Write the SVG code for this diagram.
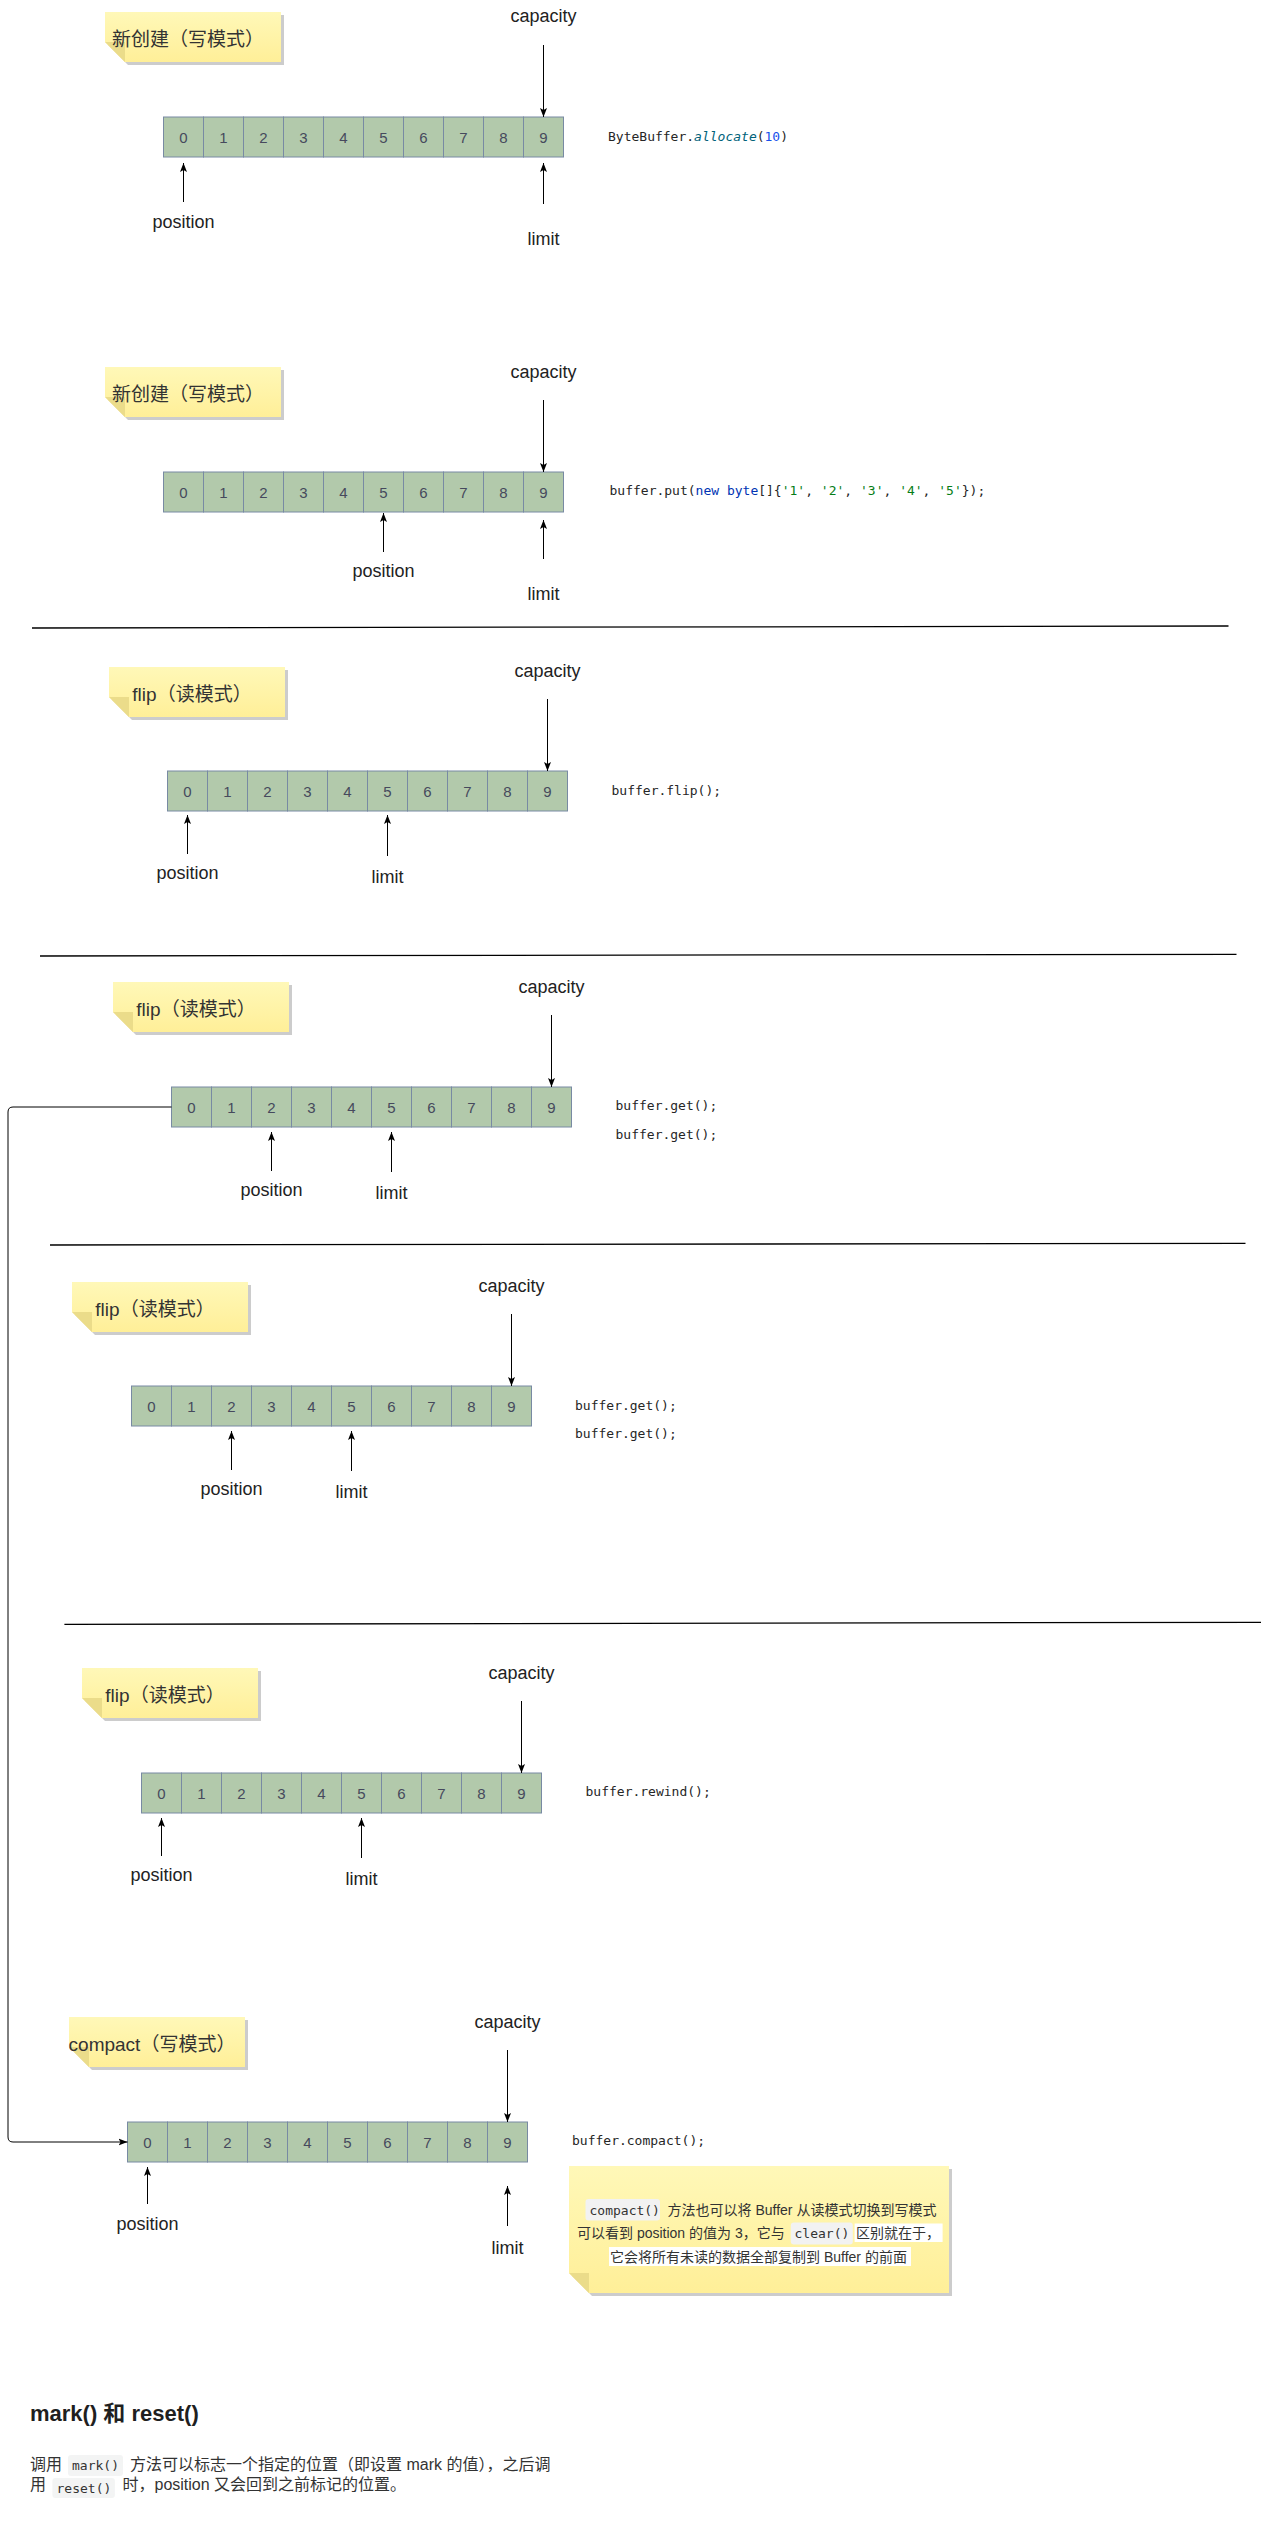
<svg xmlns="http://www.w3.org/2000/svg" width="1261" height="2530" viewBox="0 0 1261 2530">
<style>
.cell{fill:#b2c9ab;stroke:#788aa3;stroke-width:1}
.dg{font-family:"Liberation Sans","Noto Sans",sans-serif;font-size:15px;fill:#46495d;text-anchor:middle}
.lbl{font-family:"Liberation Sans","Noto Sans",sans-serif;font-size:18px;fill:#222;text-anchor:middle}
.ttl{font-family:"Liberation Sans","Noto Sans CJK SC",sans-serif;font-size:19px;fill:#333;text-anchor:middle}
.code{font-family:"DejaVu Sans Mono","Liberation Mono",monospace;font-size:13px;fill:#262626;white-space:pre}
.kw{fill:#0033b3}.str{fill:#067d17}.num{fill:#1750eb}.mth{fill:#00627a;font-style:italic}
.ln{stroke:#000;stroke-width:1;fill:none}
.sep{stroke:#000;stroke-width:1.3}
.note{fill:url(#ng)}
.fold{fill:#ebdc8a}
.shd{fill:#000;opacity:0.2}
.ntx{font-family:"Liberation Sans","Noto Sans CJK SC",sans-serif;font-size:14px;fill:#333;white-space:pre}
.ncode{font-family:"DejaVu Sans Mono","Liberation Mono",monospace;font-size:13px;fill:#333}
.cbg{fill:#f2f2f2}
.wbg{fill:#fff}
.h{font-family:"Liberation Sans","Noto Sans CJK SC",sans-serif;font-size:22px;font-weight:bold;fill:#1f1f1f}
.p{font-family:"Liberation Sans","Noto Sans CJK SC",sans-serif;font-size:16px;fill:#333;white-space:pre}
.pc{font-family:"DejaVu Sans Mono","Liberation Mono",monospace;font-size:13px;fill:#333}
.pbg{fill:#f3f4f4}
</style>
<defs>
<linearGradient id="ng" x1="0" y1="0" x2="0" y2="1">
<stop offset="0" stop-color="#fff8b8"/>
<stop offset="1" stop-color="#ffef98"/>
</linearGradient>
<marker id="ah" markerWidth="10" markerHeight="8" refX="9" refY="4" orient="auto" markerUnits="userSpaceOnUse">
<path d="M0,0.5 L9,4 L0,7.5 L2,4 Z" fill="#000"/>
</marker>
</defs>

<!-- separators -->
<g id="separators">
<line class="sep" x1="32" y1="628" x2="1228.5" y2="626"/>
<line class="sep" x1="40" y1="956" x2="1236.5" y2="954.3"/>
<line class="sep" x1="50" y1="1245" x2="1245.5" y2="1243.3"/>
<line class="sep" x1="64.4" y1="1624.3" x2="1261" y2="1622.3"/>
</g>

<!-- notes -->
<g id="note1" transform="translate(105,12)">
<path class="shd" d="M3,3 H179 V53 H23 L3,33 Z"/><path class="note" d="M0,0 H176 V50 H20 L0,30 Z"/><path class="fold" d="M0,30 L20,30 L20,50 Z"/>
<text class="ttl" x="83" y="33.5">新创建（写模式）</text>
</g>
<g id="note2" transform="translate(105,367)">
<path class="shd" d="M3,3 H179 V53 H23 L3,33 Z"/><path class="note" d="M0,0 H176 V50 H20 L0,30 Z"/><path class="fold" d="M0,30 L20,30 L20,50 Z"/>
<text class="ttl" x="83" y="33.5">新创建（写模式）</text>
</g>
<g id="note3" transform="translate(109,667)">
<path class="shd" d="M3,3 H179 V53 H23 L3,33 Z"/><path class="note" d="M0,0 H176 V50 H20 L0,30 Z"/><path class="fold" d="M0,30 L20,30 L20,50 Z"/>
<text class="ttl" x="83" y="33.5">flip（读模式）</text>
</g>
<g id="note4" transform="translate(113,982)">
<path class="shd" d="M3,3 H179 V53 H23 L3,33 Z"/><path class="note" d="M0,0 H176 V50 H20 L0,30 Z"/><path class="fold" d="M0,30 L20,30 L20,50 Z"/>
<text class="ttl" x="83" y="33.5">flip（读模式）</text>
</g>
<g id="note5" transform="translate(72,1282)">
<path class="shd" d="M3,3 H179 V53 H23 L3,33 Z"/><path class="note" d="M0,0 H176 V50 H20 L0,30 Z"/><path class="fold" d="M0,30 L20,30 L20,50 Z"/>
<text class="ttl" x="83" y="33.5">flip（读模式）</text>
</g>
<g id="note6" transform="translate(82,1668)">
<path class="shd" d="M3,3 H179 V53 H23 L3,33 Z"/><path class="note" d="M0,0 H176 V50 H20 L0,30 Z"/><path class="fold" d="M0,30 L20,30 L20,50 Z"/>
<text class="ttl" x="83" y="33.5">flip（读模式）</text>
</g>
<g id="note7" transform="translate(69,2017)">
<path class="shd" d="M3,3 H179 V53 H23 L3,33 Z"/><path class="note" d="M0,0 H176 V50 H20 L0,30 Z"/><path class="fold" d="M0,30 L20,30 L20,50 Z"/>
<text class="ttl" x="83" y="33.5">compact（写模式）</text>
</g>

<!-- buffers -->
<g id="buffer1" transform="translate(163.5,117)">
<rect class="cell" x="0" y="0" width="40" height="40"/><rect class="cell" x="40" y="0" width="40" height="40"/><rect class="cell" x="80" y="0" width="40" height="40"/><rect class="cell" x="120" y="0" width="40" height="40"/><rect class="cell" x="160" y="0" width="40" height="40"/><rect class="cell" x="200" y="0" width="40" height="40"/><rect class="cell" x="240" y="0" width="40" height="40"/><rect class="cell" x="280" y="0" width="40" height="40"/><rect class="cell" x="320" y="0" width="40" height="40"/><rect class="cell" x="360" y="0" width="40" height="40"/>
<text class="dg" x="20" y="25.5">0</text><text class="dg" x="60" y="25.5">1</text><text class="dg" x="100" y="25.5">2</text><text class="dg" x="140" y="25.5">3</text><text class="dg" x="180" y="25.5">4</text><text class="dg" x="220" y="25.5">5</text><text class="dg" x="260" y="25.5">6</text><text class="dg" x="300" y="25.5">7</text><text class="dg" x="340" y="25.5">8</text><text class="dg" x="380" y="25.5">9</text>
</g>
<g id="buffer2" transform="translate(163.5,472)">
<rect class="cell" x="0" y="0" width="40" height="40"/><rect class="cell" x="40" y="0" width="40" height="40"/><rect class="cell" x="80" y="0" width="40" height="40"/><rect class="cell" x="120" y="0" width="40" height="40"/><rect class="cell" x="160" y="0" width="40" height="40"/><rect class="cell" x="200" y="0" width="40" height="40"/><rect class="cell" x="240" y="0" width="40" height="40"/><rect class="cell" x="280" y="0" width="40" height="40"/><rect class="cell" x="320" y="0" width="40" height="40"/><rect class="cell" x="360" y="0" width="40" height="40"/>
<text class="dg" x="20" y="25.5">0</text><text class="dg" x="60" y="25.5">1</text><text class="dg" x="100" y="25.5">2</text><text class="dg" x="140" y="25.5">3</text><text class="dg" x="180" y="25.5">4</text><text class="dg" x="220" y="25.5">5</text><text class="dg" x="260" y="25.5">6</text><text class="dg" x="300" y="25.5">7</text><text class="dg" x="340" y="25.5">8</text><text class="dg" x="380" y="25.5">9</text>
</g>
<g id="buffer3" transform="translate(167.5,771)">
<rect class="cell" x="0" y="0" width="40" height="40"/><rect class="cell" x="40" y="0" width="40" height="40"/><rect class="cell" x="80" y="0" width="40" height="40"/><rect class="cell" x="120" y="0" width="40" height="40"/><rect class="cell" x="160" y="0" width="40" height="40"/><rect class="cell" x="200" y="0" width="40" height="40"/><rect class="cell" x="240" y="0" width="40" height="40"/><rect class="cell" x="280" y="0" width="40" height="40"/><rect class="cell" x="320" y="0" width="40" height="40"/><rect class="cell" x="360" y="0" width="40" height="40"/>
<text class="dg" x="20" y="25.5">0</text><text class="dg" x="60" y="25.5">1</text><text class="dg" x="100" y="25.5">2</text><text class="dg" x="140" y="25.5">3</text><text class="dg" x="180" y="25.5">4</text><text class="dg" x="220" y="25.5">5</text><text class="dg" x="260" y="25.5">6</text><text class="dg" x="300" y="25.5">7</text><text class="dg" x="340" y="25.5">8</text><text class="dg" x="380" y="25.5">9</text>
</g>
<g id="buffer4" transform="translate(171.5,1087)">
<rect class="cell" x="0" y="0" width="40" height="40"/><rect class="cell" x="40" y="0" width="40" height="40"/><rect class="cell" x="80" y="0" width="40" height="40"/><rect class="cell" x="120" y="0" width="40" height="40"/><rect class="cell" x="160" y="0" width="40" height="40"/><rect class="cell" x="200" y="0" width="40" height="40"/><rect class="cell" x="240" y="0" width="40" height="40"/><rect class="cell" x="280" y="0" width="40" height="40"/><rect class="cell" x="320" y="0" width="40" height="40"/><rect class="cell" x="360" y="0" width="40" height="40"/>
<text class="dg" x="20" y="25.5">0</text><text class="dg" x="60" y="25.5">1</text><text class="dg" x="100" y="25.5">2</text><text class="dg" x="140" y="25.5">3</text><text class="dg" x="180" y="25.5">4</text><text class="dg" x="220" y="25.5">5</text><text class="dg" x="260" y="25.5">6</text><text class="dg" x="300" y="25.5">7</text><text class="dg" x="340" y="25.5">8</text><text class="dg" x="380" y="25.5">9</text>
</g>
<g id="buffer5" transform="translate(131.5,1386)">
<rect class="cell" x="0" y="0" width="40" height="40"/><rect class="cell" x="40" y="0" width="40" height="40"/><rect class="cell" x="80" y="0" width="40" height="40"/><rect class="cell" x="120" y="0" width="40" height="40"/><rect class="cell" x="160" y="0" width="40" height="40"/><rect class="cell" x="200" y="0" width="40" height="40"/><rect class="cell" x="240" y="0" width="40" height="40"/><rect class="cell" x="280" y="0" width="40" height="40"/><rect class="cell" x="320" y="0" width="40" height="40"/><rect class="cell" x="360" y="0" width="40" height="40"/>
<text class="dg" x="20" y="25.5">0</text><text class="dg" x="60" y="25.5">1</text><text class="dg" x="100" y="25.5">2</text><text class="dg" x="140" y="25.5">3</text><text class="dg" x="180" y="25.5">4</text><text class="dg" x="220" y="25.5">5</text><text class="dg" x="260" y="25.5">6</text><text class="dg" x="300" y="25.5">7</text><text class="dg" x="340" y="25.5">8</text><text class="dg" x="380" y="25.5">9</text>
</g>
<g id="buffer6" transform="translate(141.5,1773)">
<rect class="cell" x="0" y="0" width="40" height="40"/><rect class="cell" x="40" y="0" width="40" height="40"/><rect class="cell" x="80" y="0" width="40" height="40"/><rect class="cell" x="120" y="0" width="40" height="40"/><rect class="cell" x="160" y="0" width="40" height="40"/><rect class="cell" x="200" y="0" width="40" height="40"/><rect class="cell" x="240" y="0" width="40" height="40"/><rect class="cell" x="280" y="0" width="40" height="40"/><rect class="cell" x="320" y="0" width="40" height="40"/><rect class="cell" x="360" y="0" width="40" height="40"/>
<text class="dg" x="20" y="25.5">0</text><text class="dg" x="60" y="25.5">1</text><text class="dg" x="100" y="25.5">2</text><text class="dg" x="140" y="25.5">3</text><text class="dg" x="180" y="25.5">4</text><text class="dg" x="220" y="25.5">5</text><text class="dg" x="260" y="25.5">6</text><text class="dg" x="300" y="25.5">7</text><text class="dg" x="340" y="25.5">8</text><text class="dg" x="380" y="25.5">9</text>
</g>
<g id="buffer7" transform="translate(127.5,2122)">
<rect class="cell" x="0" y="0" width="40" height="40"/><rect class="cell" x="40" y="0" width="40" height="40"/><rect class="cell" x="80" y="0" width="40" height="40"/><rect class="cell" x="120" y="0" width="40" height="40"/><rect class="cell" x="160" y="0" width="40" height="40"/><rect class="cell" x="200" y="0" width="40" height="40"/><rect class="cell" x="240" y="0" width="40" height="40"/><rect class="cell" x="280" y="0" width="40" height="40"/><rect class="cell" x="320" y="0" width="40" height="40"/><rect class="cell" x="360" y="0" width="40" height="40"/>
<text class="dg" x="20" y="25.5">0</text><text class="dg" x="60" y="25.5">1</text><text class="dg" x="100" y="25.5">2</text><text class="dg" x="140" y="25.5">3</text><text class="dg" x="180" y="25.5">4</text><text class="dg" x="220" y="25.5">5</text><text class="dg" x="260" y="25.5">6</text><text class="dg" x="300" y="25.5">7</text><text class="dg" x="340" y="25.5">8</text><text class="dg" x="380" y="25.5">9</text>
</g>

<!-- pointer labels -->
<g id="labels">
<text class="lbl" x="543.5" y="22">capacity</text><text class="lbl" x="183.5" y="228">position</text><text class="lbl" x="543.5" y="245">limit</text>
<text class="lbl" x="543.5" y="378">capacity</text><text class="lbl" x="383.5" y="577">position</text><text class="lbl" x="543.5" y="600">limit</text>
<text class="lbl" x="547.5" y="677">capacity</text><text class="lbl" x="187.5" y="879">position</text><text class="lbl" x="387.5" y="883">limit</text>
<text class="lbl" x="551.5" y="993">capacity</text><text class="lbl" x="271.5" y="1196">position</text><text class="lbl" x="391.5" y="1199">limit</text>
<text class="lbl" x="511.5" y="1292">capacity</text><text class="lbl" x="231.5" y="1495">position</text><text class="lbl" x="351.5" y="1498">limit</text>
<text class="lbl" x="521.5" y="1679">capacity</text><text class="lbl" x="161.5" y="1881">position</text><text class="lbl" x="361.5" y="1885">limit</text>
<text class="lbl" x="507.5" y="2028">capacity</text><text class="lbl" x="147.5" y="2230">position</text><text class="lbl" x="507.5" y="2254">limit</text>
</g>

<!-- code -->
<g id="code">
<text class="code" x="608" y="140.5">ByteBuffer.<tspan class="mth">allocate</tspan>(<tspan class="num">10</tspan>)</text>
<text class="code" x="609.5" y="495">buffer.put(<tspan class="kw">new</tspan> <tspan class="kw">byte</tspan>[]{<tspan class="str">'1'</tspan>, <tspan class="str">'2'</tspan>, <tspan class="str">'3'</tspan>, <tspan class="str">'4'</tspan>, <tspan class="str">'5'</tspan>});</text>
<text class="code" x="611.5" y="794.5">buffer.flip();</text>
<text class="code" x="615.5" y="1110">buffer.get();</text>
<text class="code" x="615.5" y="1139">buffer.get();</text>
<text class="code" x="575" y="1409.5">buffer.get();</text>
<text class="code" x="575" y="1438">buffer.get();</text>
<text class="code" x="585.5" y="1796">buffer.rewind();</text>
<text class="code" x="572" y="2145">buffer.compact();</text>
</g>

<!-- compact note -->
<g id="compact-note" transform="translate(569,2166)">
<path class="shd" d="M3,3 H383 V130 H23 L3,110 Z"/>
<path class="note" d="M0,0 H380 V127 H20 L0,107 Z"/>
<path class="fold" d="M0,107 L20,107 L20,127 Z"/>
</g>
<g id="compact-note-text">
<rect class="cbg" x="585.5" y="2199" width="74.5" height="21.5" rx="3"/>
<text class="ncode" x="589.5" y="2214.5">compact()</text>
<text class="ntx" x="667.5" y="2215">方法也可以将 Buffer 从读模式切换到写模式</text>
<text class="ntx" x="577" y="2238">可以看到 position 的值为 3，它与</text>
<rect class="cbg" x="790.8" y="2222.5" width="62" height="22" rx="3"/>
<text class="ncode" x="794.5" y="2238">clear()</text>
<rect class="wbg" x="854.6" y="2223.5" width="88" height="18.5"/>
<text class="ntx" x="856" y="2238">区别就在于，</text>
<rect class="wbg" x="609" y="2247" width="302" height="19"/>
<text class="ntx" x="610" y="2261.5">它会将所有未读的数据全部复制到 Buffer 的前面</text>
</g>

<!-- connectors -->
<g id="connectors">
<line class="ln" x1="543.5" y1="45" x2="543.5" y2="117" marker-end="url(#ah)"/>
<line class="ln" x1="183.5" y1="202" x2="183.5" y2="163" marker-end="url(#ah)"/>
<line class="ln" x1="543.5" y1="204" x2="543.5" y2="163" marker-end="url(#ah)"/>
<line class="ln" x1="543.5" y1="400" x2="543.5" y2="472" marker-end="url(#ah)"/>
<line class="ln" x1="383.5" y1="552" x2="383.5" y2="513" marker-end="url(#ah)"/>
<line class="ln" x1="543.5" y1="559" x2="543.5" y2="520" marker-end="url(#ah)"/>
<line class="ln" x1="547.5" y1="699" x2="547.5" y2="771" marker-end="url(#ah)"/>
<line class="ln" x1="187.5" y1="854" x2="187.5" y2="815" marker-end="url(#ah)"/>
<line class="ln" x1="387.5" y1="856" x2="387.5" y2="815" marker-end="url(#ah)"/>
<line class="ln" x1="551.5" y1="1015" x2="551.5" y2="1087" marker-end="url(#ah)"/>
<line class="ln" x1="271.5" y1="1171" x2="271.5" y2="1132" marker-end="url(#ah)"/>
<line class="ln" x1="391.5" y1="1172" x2="391.5" y2="1132" marker-end="url(#ah)"/>
<line class="ln" x1="511.5" y1="1314" x2="511.5" y2="1386" marker-end="url(#ah)"/>
<line class="ln" x1="231.5" y1="1470" x2="231.5" y2="1431" marker-end="url(#ah)"/>
<line class="ln" x1="351.5" y1="1471" x2="351.5" y2="1431" marker-end="url(#ah)"/>
<line class="ln" x1="521.5" y1="1701" x2="521.5" y2="1773" marker-end="url(#ah)"/>
<line class="ln" x1="161.5" y1="1856" x2="161.5" y2="1818" marker-end="url(#ah)"/>
<line class="ln" x1="361.5" y1="1858" x2="361.5" y2="1818" marker-end="url(#ah)"/>
<line class="ln" x1="507.5" y1="2050" x2="507.5" y2="2122" marker-end="url(#ah)"/>
<line class="ln" x1="147.5" y1="2204" x2="147.5" y2="2167" marker-end="url(#ah)"/>
<line class="ln" x1="507.5" y1="2226" x2="507.5" y2="2186" marker-end="url(#ah)"/>
<path class="ln" d="M171.5,1107 H13 Q8,1107 8,1112 V2137 Q8,2142 13,2142 H127.5" marker-end="url(#ah)"/>
</g>

<!-- bottom text -->
<g id="mark-reset">
<text class="h" x="30" y="2421">mark() 和 reset()</text>
<text class="p" x="30" y="2470">调用</text>
<rect class="pbg" x="68" y="2455" width="55" height="21" rx="3"/>
<text class="pc" x="72" y="2469.5">mark()</text>
<text class="p" x="130" y="2470">方法可以标志一个指定的位置（即设置 mark 的值），之后调</text>
<text class="p" x="30" y="2490">用</text>
<rect class="pbg" x="52.4" y="2478" width="62.5" height="20" rx="3"/>
<text class="pc" x="56.5" y="2492.5">reset()</text>
<text class="p" x="122.5" y="2490">时，position 又会回到之前标记的位置。</text>
</g>
</svg>
